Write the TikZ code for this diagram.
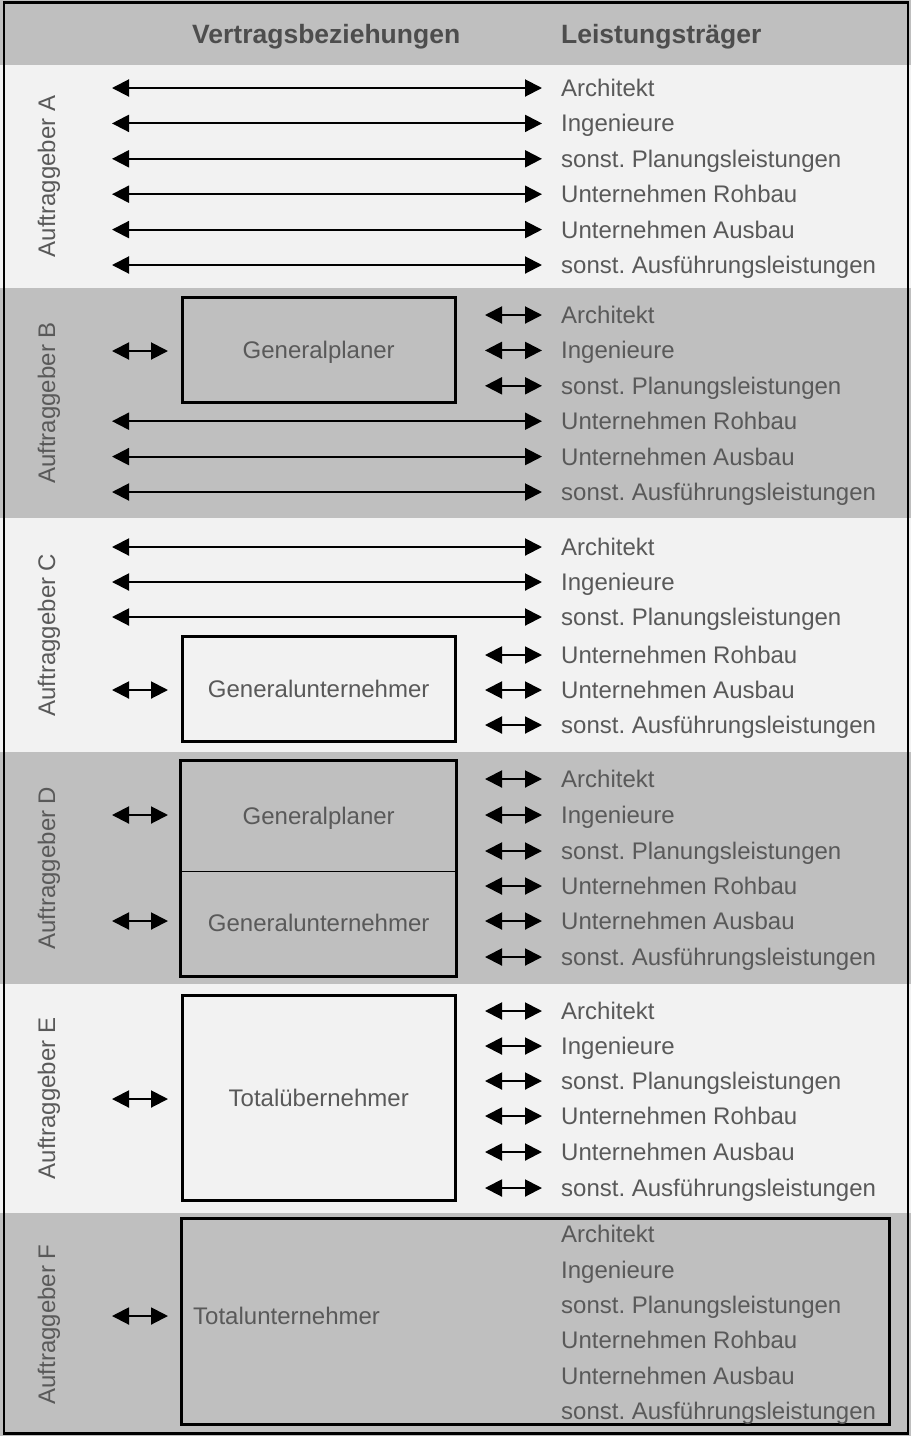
\documentclass[tikz,border=0pt]{standalone}
\usepackage{fontspec}
\setmainfont{Liberation Sans}
\usetikzlibrary{arrows.meta}
\definecolor{bandDark}{HTML}{BFBFBF}
\definecolor{bandLight}{HTML}{F2F2F2}
\definecolor{txtgray}{HTML}{595959}
\definecolor{headgray}{HTML}{4D4D4D}
\frenchspacing

\begin{document}
\begin{tikzpicture}[x=1pt,y=-1pt,
  lbl/.style={font=\fontsize{24}{24}\selectfont, text=txtgray, inner sep=0pt, anchor=base west},
  hdr/.style={font=\fontsize{26.5}{26.5}\selectfont\bfseries, text=headgray, inner sep=0pt, anchor=base west},
  vlbl/.style={font=\fontsize{24}{24}\selectfont, text=txtgray, inner sep=0pt, rotate=90, anchor=base},
  box/.style={draw=black, line width=3pt, inner sep=0pt, font=\fontsize{24}{24}\selectfont,
              text=txtgray, text height=17pt, text depth=0pt},
  conn/.style={line width=2pt, {Triangle[length=17pt,width=17pt]}-{Triangle[length=17pt,width=17pt]}}
]
\useasboundingbox (0,0) rectangle (911,1436);

% background bands
\fill[bandDark]  (0,0)    rectangle (911,65);
\fill[bandLight] (0,65)   rectangle (911,288);
\fill[bandDark]  (0,288)  rectangle (911,518);
\fill[bandLight] (0,518)  rectangle (911,752);
\fill[bandDark]  (0,752)  rectangle (911,984);
\fill[bandLight] (0,984)  rectangle (911,1213);
\fill[bandDark]  (0,1213) rectangle (911,1436);

% column headings
\node[hdr] (hVB) at (192,43) {Vertragsbeziehungen};
\node[hdr] (hLT) at (561,43) {Leistungsträger};

% client labels
\node[vlbl] (agA) at (55,176.5) {Auftraggeber A};
\node[vlbl] (agB) at (55,403)   {Auftraggeber B};
\node[vlbl] (agC) at (55,635)   {Auftraggeber C};
\node[vlbl] (agD) at (55,868)   {Auftraggeber D};
\node[vlbl] (agE) at (55,1098.5){Auftraggeber E};
\node[vlbl] (agF) at (55,1324.5){Auftraggeber F};

% intermediary boxes
\node[box, minimum width=273, minimum height=105.3] (gpB) at (318.7,349.9) {Generalplaner};
\node[box, minimum width=273, minimum height=105]   (guC) at (318.7,688.5) {Generalunternehmer};
\node[box, draw=none, minimum width=273, minimum height=107.8] (gpD) at (318.7,816.1) {Generalplaner};
\node[box, draw=none, minimum width=273, minimum height=105.2] (guD) at (318.7,922.6) {Generalunternehmer};
\draw[line width=3pt] (gpD.north west) rectangle (guD.south east);
\draw[line width=1.5pt] (gpD.south west) -- (gpD.south east);
\node[box, minimum width=273, minimum height=205] (tuE) at (318.7,1098) {Totalübernehmer};
\node[draw=black, line width=3pt, inner sep=0pt, minimum width=708, minimum height=206] (tuF) at (535,1321) {};
\node[lbl] (tuFt) at (193,1324.5) {Totalunternehmer};

% short arrows from the client to the intermediary
\foreach \nm/\y in {B/351, C/690, Da/815, Db/921, E/1099, F/1316}{
  \coordinate (cl\nm) at (112,\y);
  \coordinate (im\nm) at (168,\y);
  \draw[conn] (cl\nm) -- (im\nm);
}

% service providers: L = direct contract, S = via intermediary, N = none
\foreach \y/\k/\t [count=\n] in {
  88/L/Architekt, 123.4/L/Ingenieure, 158.8/L/sonst. Planungsleistungen,
  194.2/L/Unternehmen Rohbau, 229.6/L/Unternehmen Ausbau, 265/L/sonst. Ausführungsleistungen,
  315/S/Architekt, 350.4/S/Ingenieure, 385.8/S/sonst. Planungsleistungen,
  421.2/L/Unternehmen Rohbau, 456.6/L/Unternehmen Ausbau, 492/L/sonst. Ausführungsleistungen,
  547/L/Architekt, 582/L/Ingenieure, 617/L/sonst. Planungsleistungen,
  655/S/Unternehmen Rohbau, 690/S/Unternehmen Ausbau, 725/S/sonst. Ausführungsleistungen,
  779/S/Architekt, 815/S/Ingenieure, 851/S/sonst. Planungsleistungen,
  886/S/Unternehmen Rohbau, 921/S/Unternehmen Ausbau, 957/S/sonst. Ausführungsleistungen,
  1011/S/Architekt, 1046/S/Ingenieure, 1081/S/sonst. Planungsleistungen,
  1116/S/Unternehmen Rohbau, 1152/S/Unternehmen Ausbau, 1188/S/sonst. Ausführungsleistungen,
  1234/N/Architekt, 1269.5/N/Ingenieure, 1305/N/sonst. Planungsleistungen,
  1340/N/Unternehmen Rohbau, 1375.5/N/Unternehmen Ausbau, 1411/N/sonst. Ausführungsleistungen}{
  \node[lbl] (lt\n) at (561,\y+8.5) {\t};
  \if\k L
    \coordinate (ls\n) at (112,\y);
    \coordinate (le\n) at (542,\y);
    \draw[conn] (ls\n) -- (le\n);
  \fi
  \if\k S
    \coordinate (ls\n) at (485,\y);
    \coordinate (le\n) at (542,\y);
    \draw[conn] (ls\n) -- (le\n);
  \fi
}

% outer frame
\draw[line width=2.5pt] (4,2.5) rectangle (908,1433.5);
\end{tikzpicture}
\end{document}
